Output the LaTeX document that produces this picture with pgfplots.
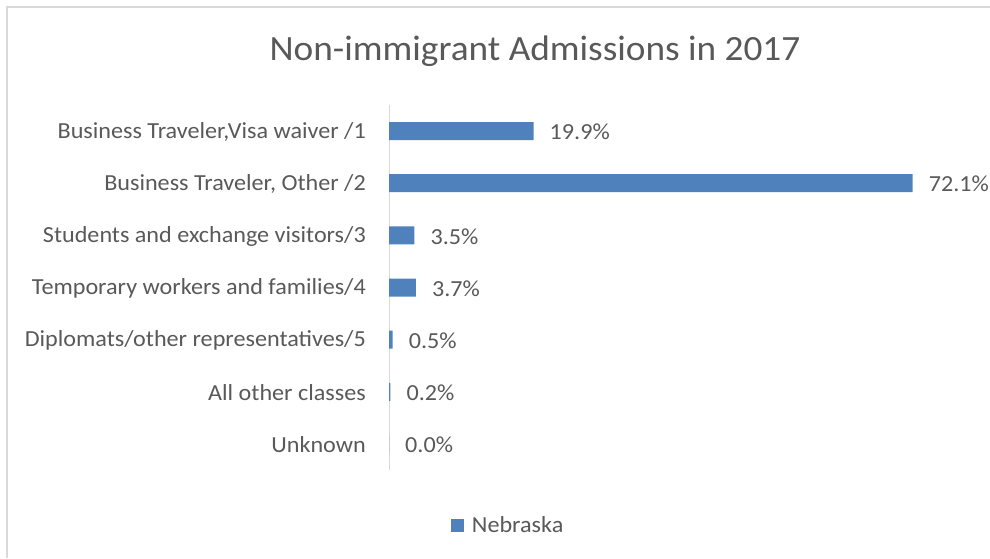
\documentclass[border=0pt]{standalone}
\usepackage{pgfplots}
\pgfplotsset{compat=1.18}
\usepackage{fontspec}
\setmainfont[FakeStretch=1.05]{Carlito}
\definecolor{barblue}{HTML}{4F81BD}
\definecolor{txtgray}{HTML}{595959}
\definecolor{linegray}{HTML}{D9D9D9}
\begin{document}
\begin{tikzpicture}[x=1pt,y=1pt]
\useasboundingbox (0,0) rectangle (990,558);
\draw[linegray, line width=1.5pt] (7,0) -- (7,551) -- (990,551);
\node[text=txtgray, font=\fontsize{35.5}{40}\selectfont] at (535,507) {Non-immigrant Admissions in 2017};
\begin{axis}[
  at={(389pt,88pt)}, anchor=south west,
  scale only axis, width=581pt, height=365pt,
  xbar, bar width=18pt,
  xmin=0, xmax=80,
  ymin=-0.5, ymax=6.5,
  hide x axis,
  axis y line*=left,
  y axis line style={draw=linegray, line width=1pt, -},
  ytick={0,1,2,3,4,5,6},
  yticklabels={Unknown, All other classes, Diplomats/other representatives/5, Temporary workers and families/4, Students and exchange visitors/3, {Business Traveler, Other /2}, {Business Traveler,Visa waiver /1}},
  major tick length=0pt,
  yticklabel style={text=txtgray, font=\fontsize{23}{26}\selectfont, inner sep=0pt, xshift=-23pt, yshift=-1pt},
  /pgf/number format/assume math mode=true,
  nodes near coords={\pgfmathprintnumber[fixed, fixed zerofill, precision=1, assume math mode=true]{\pgfplotspointmeta}\%},
  nodes near coords style={text=txtgray, font=\fontsize{23}{26}\selectfont, anchor=west, inner sep=0pt, xshift=16pt, yshift=-1pt},
  point meta=explicit,
  legend style={at={(0.205,-0.151)}, anchor=center, draw=none, text=txtgray, font=\fontsize{23}{26}\selectfont, inner sep=0pt, /tikz/every odd column/.append style={column sep=6pt}},
  legend image code/.code={\fill[barblue] (0pt,-6.5pt) rectangle (13pt,6.5pt);},
  clip=false,
]
\addplot[fill=barblue, draw=none] coordinates {
  (0.0,0) [0.0]
  (0.2,1) [0.2]
  (0.5,2) [0.5]
  (3.7,3) [3.7]
  (3.5,4) [3.5]
  (72.1,5) [72.1]
  (19.9,6) [19.9]
};
\addlegendentry{Nebraska}
\end{axis}
\end{tikzpicture}
\end{document}
